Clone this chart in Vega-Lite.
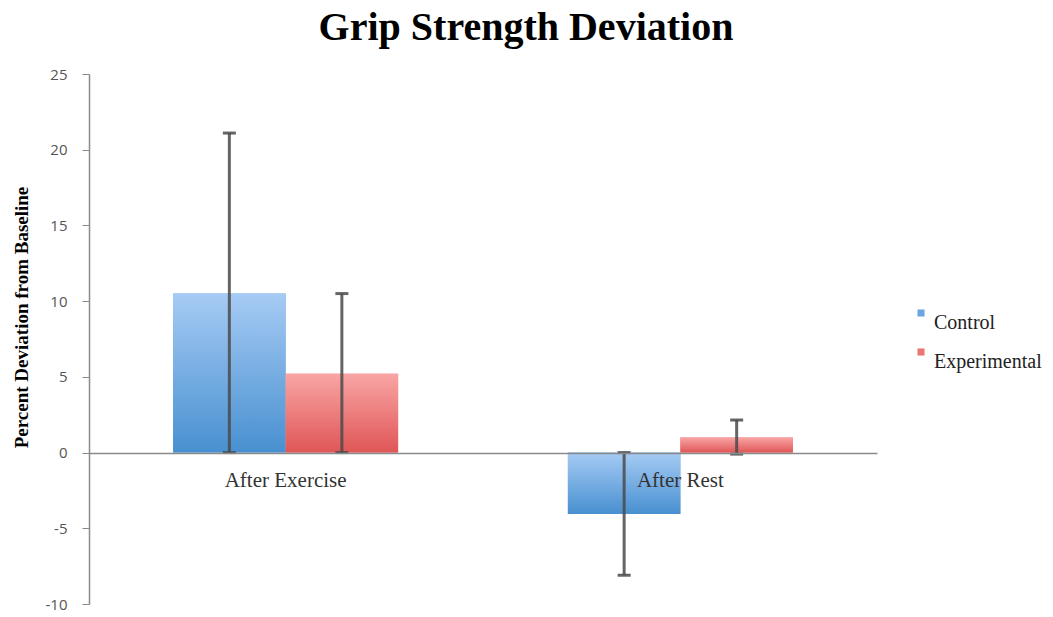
{
  "$schema": "https://vega.github.io/schema/vega-lite/v6.json",
  "width": 788,
  "height": 530,
  "autosize": {"type": "none"},
  "padding": {"left": 89, "top": 74, "right": 176, "bottom": 13},
  "background": "white",
  "title": {
    "text": "Grip Strength Deviation",
    "font": "Liberation Serif",
    "fontSize": 40,
    "fontWeight": "bold",
    "color": "#000000",
    "anchor": "middle",
    "dx": 43,
    "offset": 19
  },
  "config": {"view": {"stroke": null}},
  "data": {
    "values": [
      {"condition": "After Exercise", "group": "Control", "value": 10.5, "low": 0, "high": 21.1},
      {"condition": "After Exercise", "group": "Experimental", "value": 5.2, "low": 0, "high": 10.5},
      {"condition": "After Rest", "group": "Control", "value": -4.05, "low": -8.1, "high": 0},
      {"condition": "After Rest", "group": "Experimental", "value": 1.0, "low": -0.1, "high": 2.15}
    ]
  },
  "encoding": {
    "x": {
      "field": "condition",
      "type": "nominal",
      "sort": ["After Exercise", "After Rest"],
      "scale": {"paddingInner": 0.43, "paddingOuter": 0.213},
      "axis": {
        "title": null,
        "offset": -151,
        "zindex": 1,
        "domainColor": "#8a8a8a",
        "domainWidth": 1.5,
        "ticks": false,
        "grid": false,
        "labelAngle": 0,
        "labelFont": "Liberation Serif",
        "labelFontSize": 21,
        "labelColor": "#333333",
        "labelPadding": 16
      }
    },
    "xOffset": {
      "field": "group",
      "type": "nominal",
      "sort": ["Control", "Experimental"],
      "scale": {"paddingInner": 0, "paddingOuter": 0}
    }
  },
  "layer": [
    {
      "mark": {"type": "bar"},
      "encoding": {
        "y": {
          "field": "value",
          "type": "quantitative",
          "scale": {"domain": [-10, 25], "nice": false, "zero": true},
          "axis": {
            "title": "Percent Deviation from Baseline",
            "titleFont": "Liberation Serif",
            "titleFontSize": 19,
            "titleFontWeight": "bold",
            "titleColor": "#000000",
            "titlePadding": 14,
            "titleY": 243,
            "values": [-10, -5, 0, 5, 10, 15, 20, 25],
            "labelExpr": "'' + datum.value",
            "grid": false,
            "domainColor": "#8a8a8a",
            "domainWidth": 1.5,
            "tickColor": "#8a8a8a",
            "tickSize": 7,
            "labelFont": "Open Sans",
            "labelFontSize": 15,
            "labelColor": "#555555",
            "labelPadding": 15,
            "labelFlush": false
          }
        },
        "color": {
          "field": "group",
          "type": "nominal",
          "scale": {"domain": ["Control", "Experimental"], "range": ["#6aa7e2", "#ec7474"]},
          "legend": {
            "title": null,
            "orient": "none",
            "legendX": 822,
            "legendY": 229,
            "symbolType": "square",
            "symbolSize": 50,
            "symbolStrokeWidth": 0,
            "labelFont": "Liberation Serif",
            "labelFontSize": 20,
            "labelColor": "#222222",
            "labelBaseline": "top",
            "labelOffset": 3,
            "labelLimit": 300,
            "rowPadding": 9
          }
        }
      }
    },
    {
      "transform": [{"filter": "datum.group === 'Control'"}],
      "mark": {
        "type": "bar",
        "color": {
          "gradient": "linear",
          "x1": 0, "y1": 0, "x2": 0, "y2": 1,
          "stops": [
            {"offset": 0, "color": "#a6cbf4"},
            {"offset": 1, "color": "#4890d0"}
          ]
        }
      },
      "encoding": {"y": {"field": "value", "type": "quantitative"}}
    },
    {
      "transform": [{"filter": "datum.group === 'Experimental'"}],
      "mark": {
        "type": "bar",
        "color": {
          "gradient": "linear",
          "x1": 0, "y1": 0, "x2": 0, "y2": 1,
          "stops": [
            {"offset": 0, "color": "#f9a5a5"},
            {"offset": 1, "color": "#e05656"}
          ]
        }
      },
      "encoding": {"y": {"field": "value", "type": "quantitative"}}
    },
    {
      "mark": {"type": "rule", "color": "#4a4a4a", "strokeWidth": 3, "opacity": 0.85},
      "encoding": {
        "y": {"field": "low", "type": "quantitative"},
        "y2": {"field": "high"}
      }
    },
    {
      "mark": {"type": "tick", "orient": "horizontal", "size": 13, "thickness": 3, "color": "#4a4a4a", "opacity": 0.85},
      "encoding": {"y": {"field": "high", "type": "quantitative"}}
    },
    {
      "mark": {"type": "tick", "orient": "horizontal", "size": 13, "thickness": 3, "color": "#4a4a4a", "opacity": 0.85},
      "encoding": {"y": {"field": "low", "type": "quantitative"}}
    }
  ]
}
